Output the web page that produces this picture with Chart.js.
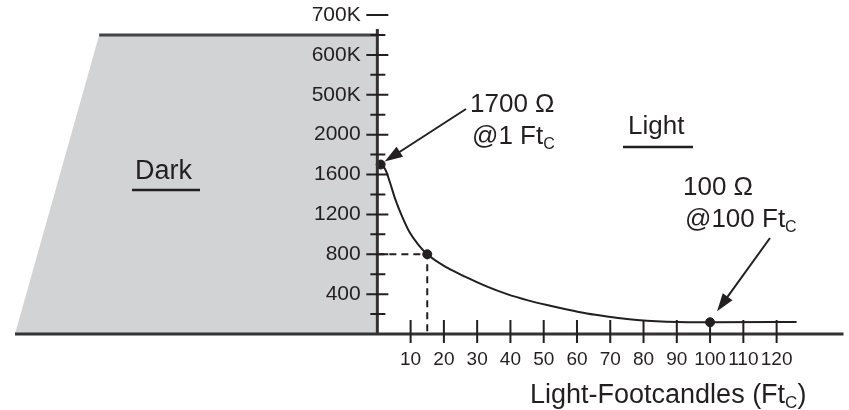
<!DOCTYPE html>
<html>
<head>
<meta charset="utf-8">
<script src="https://cdn.jsdelivr.net/npm/chart.js@4.4.0/dist/chart.umd.min.js"></script>
<style>
  body { margin: 0; background: #fff; }
  canvas { display: block; }
</style>
</head>
<body>
<canvas id="ldrChart" width="849" height="410"></canvas>
<script>
// light level (footcandles) and cell resistance (ohms)
let footcandles = [1, 2.4, 3.8, 5.3, 7.3, 9.7, 12, 15, 21, 27, 33, 39, 45, 51, 57, 63, 69, 75, 81, 87, 100, 126];
let resistance = [1700, 1650, 1520, 1360, 1190, 1020, 910, 800, 665, 565, 475, 400, 340, 290, 245, 205, 175, 150, 133, 124, 118, 120];

// the three marked points on the curve
let markFc = [1, 15, 100];
let markOhm = [1700, 800, 118];

// shaded "Dark" region outline
let darkFc = [-108.9, -83.6, 0];
let darkOhm = [0, 3000, 3000];

// axis ticks (the upper part of the y axis is broken: 2400 -> 500K etc.)
let xTicks = [10, 20, 30, 40, 50, 60, 70, 80, 90, 100, 110, 120];
let yTicks = [400, 800, 1200, 1600, 2000, 2400, 2800, 3200];
let yTickLabels = ["400", "800", "1200", "1600", "2000", "500K", "600K", "700K"];
let yMinorTicks = [200, 600, 1000, 1400, 1800, 2200, 2600, 3000];
let yAxisTop = 3060;

const ink = '#231f20';
const face = '"Liberation Sans", Arial, Helvetica, sans-serif';

const pts = (xs, ys) => xs.map((v, i) => ({ x: v, y: ys[i] }));

function subText(ctx, parts, x, y) {
  // parts: [text, size, dy]
  let cx = x;
  parts.forEach(p => {
    ctx.font = p[1] + 'px ' + face;
    ctx.fillText(p[0], cx, y + p[2]);
    cx += ctx.measureText(p[0]).width;
  });
  return cx;
}

function arrow(ctx, fx, fy, tx, ty) {
  const a = Math.atan2(ty - fy, tx - fx);
  const len = 18, half = 6;
  ctx.beginPath();
  ctx.moveTo(fx, fy);
  ctx.lineTo(tx - Math.cos(a) * len * 0.8, ty - Math.sin(a) * len * 0.8);
  ctx.stroke();
  ctx.beginPath();
  ctx.moveTo(tx, ty);
  ctx.lineTo(tx - Math.cos(a) * len + Math.sin(a) * half, ty - Math.sin(a) * len - Math.cos(a) * half);
  ctx.lineTo(tx - Math.cos(a) * len - Math.sin(a) * half, ty - Math.sin(a) * len + Math.cos(a) * half);
  ctx.closePath();
  ctx.fill();
}

// axes here sit inside the plot, so they should not eat layout space
function noSpace(s) {
  if (s.isHorizontal()) s.height = 0; else s.width = 0;
  s.paddingTop = s.paddingBottom = s.paddingLeft = s.paddingRight = 0;
}

const inkPlugin = {
  id: 'ink',
  afterDatasetsDraw(chart) {
    const { ctx, chartArea } = chart;
    const x = chart.scales.x, y = chart.scales.y;
    const x0 = x.getPixelForValue(0), y0 = y.getPixelForValue(0);
    ctx.save();
    ctx.strokeStyle = '#333';
    ctx.lineWidth = 3;
    ctx.beginPath();
    ctx.moveTo(chartArea.left, y0);
    ctx.lineTo(chartArea.right, y0);
    ctx.moveTo(x0, y0);
    ctx.lineTo(x0, y.getPixelForValue(yAxisTop));
    ctx.stroke();

    ctx.strokeStyle = ink;
    ctx.lineWidth = 2;
    ctx.beginPath();
    xTicks.forEach(v => {
      const px = x.getPixelForValue(v);
      ctx.moveTo(px, y0 - 14);
      ctx.lineTo(px, y0 + 9);
    });
    yTicks.forEach(v => {
      const py = y.getPixelForValue(v);
      ctx.moveTo(x0 - 11, py);
      ctx.lineTo(x0 + 11, py);
    });
    yMinorTicks.forEach(v => {
      const py = y.getPixelForValue(v);
      ctx.moveTo(x0 - 7, py);
      ctx.lineTo(x0 + 8, py);
    });
    ctx.stroke();
    ctx.restore();
  },
  afterDraw(chart) {
    const { ctx } = chart;
    const x = chart.scales.x, y = chart.scales.y;
    ctx.save();
    ctx.fillStyle = ink;
    ctx.strokeStyle = ink;
    ctx.textBaseline = 'middle';
    ctx.textAlign = 'left';

    // region labels
    ctx.font = '27px ' + face;
    ctx.fillText('Dark', 135, 172);
    ctx.font = '26px ' + face;
    ctx.fillText('Light', 628, 127);
    ctx.lineWidth = 2.5;
    ctx.beginPath();
    ctx.moveTo(132, 190); ctx.lineTo(200, 190);
    ctx.moveTo(623, 147); ctx.lineTo(693, 147);
    ctx.stroke();

    // point annotations
    ctx.font = '26px ' + face;
    ctx.fillText('1700 \u03A9', 470, 105);
    subText(ctx, [['@1 Ft', 26, 0], ['C', 16, 8]], 472, 137);
    ctx.font = '26px ' + face;
    ctx.fillText('100 \u03A9', 683, 188);
    subText(ctx, [['@100 Ft', 26, 0], ['C', 16, 8]], 685, 220);

    // arrows to the marked points
    ctx.lineWidth = 2;
    const p1x = x.getPixelForValue(markFc[0]), p1y = y.getPixelForValue(markOhm[0]);
    arrow(ctx, 466, 109, p1x + 4, p1y - 3);
    const p3x = x.getPixelForValue(markFc[2]), p3y = y.getPixelForValue(markOhm[2]);
    arrow(ctx, 770, 238, p3x + 7, p3y - 11);

    // x axis title
    subText(ctx, [['Light-Footcandles (Ft', 27, 0], ['C', 17, 7], [')', 27, 0]], 530, 396);
    ctx.restore();
  }
};

const tickFont = size => ({ family: face, size: size });

new Chart(document.getElementById('ldrChart').getContext('2d'), {
  type: 'line',
  data: {
    datasets: [{
      label: 'Markers',
      data: pts(markFc, markOhm),
      showLine: false,
      pointRadius: 4.5,
      pointBackgroundColor: ink,
      pointBorderColor: ink,
      order: 0
    },
    {
      label: 'Resistance',
      data: pts(footcandles, resistance),
      borderColor: ink,
      borderWidth: 2,
      pointRadius: 0,
      cubicInterpolationMode: 'monotone',
      fill: false,
      order: 1
    },
    {
      label: 'Guide',
      data: pts([0, markFc[1], markFc[1]], [markOhm[1], markOhm[1], 0]),
      borderColor: ink,
      borderWidth: 2,
      borderDash: [7, 5],
      pointRadius: 0,
      fill: false,
      order: 2
    },
    {
      label: 'Dark edge',
      data: pts(darkFc.slice(1), darkOhm.slice(1)),
      borderColor: '#444',
      borderWidth: 3,
      pointRadius: 0,
      fill: false,
      order: 4
    },
    {
      label: 'Dark',
      data: pts(darkFc, darkOhm),
      backgroundColor: '#d1d3d4',
      borderWidth: 0,
      pointRadius: 0,
      fill: 'origin',
      order: 5
    }]
  },
  options: {
    responsive: false,
    animation: false,
    layout: { padding: { left: 15, right: 0, top: 15, bottom: 76 } },
    plugins: { legend: { display: false }, tooltip: { enabled: false } },
    scales: {
      x: {
        type: 'linear',
        min: -108.9,
        max: 140.1,
        position: { y: 0 },
        grid: { display: false, drawTicks: false },
        border: { display: false },
        afterBuildTicks: s => { s.ticks = xTicks.map(v => ({ value: v })); },
        afterFit: noSpace,
        ticks: { z: 1, autoSkip: false, maxRotation: 0, minRotation: 0, padding: 14, color: ink, font: tickFont(19) }
      },
      y: {
        type: 'linear',
        min: 0,
        max: 3200,
        position: { x: -5 },
        grid: { display: false, drawTicks: false },
        border: { display: false },
        afterBuildTicks: s => { s.ticks = yTicks.map(v => ({ value: v })); },
        afterFit: noSpace,
        ticks: {
          z: 1,
          autoSkip: false,
          padding: 0,
          color: ink,
          font: tickFont(21),
          callback: v => yTickLabels[yTicks.indexOf(v)]
        }
      }
    }
  },
  plugins: [inkPlugin]
});
</script>
</body>
</html>
